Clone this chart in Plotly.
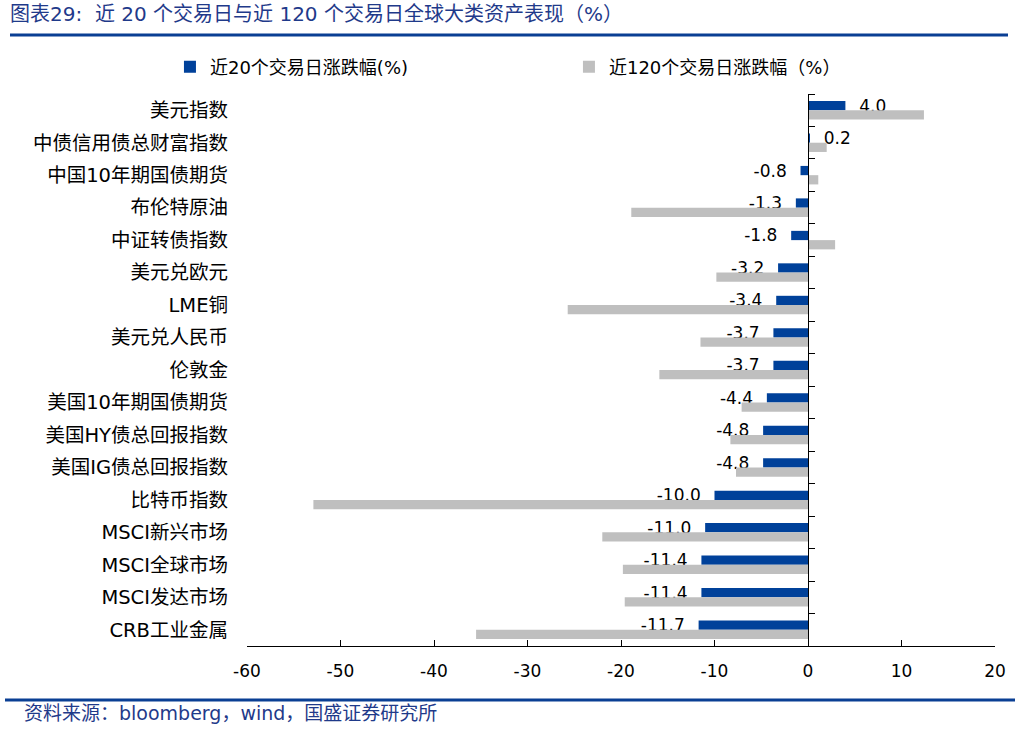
import plotly.graph_objects as go

categories = ["美元指数", "中债信用债总财富指数", "中国10年期国债期货", "布伦特原油", "中证转债指数",
              "美元兑欧元", "LME铜", "美元兑人民币", "伦敦金", "美国10年期国债期货",
              "美国HY债总回报指数", "美国IG债总回报指数", "比特币指数", "MSCI新兴市场",
              "MSCI全球市场", "MSCI发达市场", "CRB工业金属"]
chg_20d = [4.0, 0.2, -0.8, -1.3, -1.8, -3.2, -3.4, -3.7, -3.7, -4.4, -4.8, -4.8,
           -10.0, -11.0, -11.4, -11.4, -11.7]
chg_120d = [12.4, 2.0, 1.1, -18.9, 2.9, -9.8, -25.7, -11.5, -15.9, -7.1, -8.3, -7.7,
            -52.9, -22.0, -19.8, -19.6, -35.5]
series_names = ["近20个交易日涨跌幅(%)", "近120个交易日涨跌幅（%）"]
x_ticks = [-60, -50, -40, -30, -20, -10, 0, 10, 20]
x_ticktext = ["-60", "-50", "-40", "-30", "-20", "-10", "0", "10", "20"]

BLUE = "#00419A"
GRAY = "#BFBFBF"
NAVY = "#1F3A8A"
LATIN = "DejaVu Sans, Noto Sans CJK SC, sans-serif"

labels = [("\u00a0\u00a0" + "%{x:.1f}") if v >= 0 else ("%{x:.1f}" + "\u00a0\u00a0") for v in chg_20d]

fig = go.Figure()
fig.add_trace(go.Bar(
    y=categories, x=chg_20d, orientation="h", name=series_names[0],
    marker=dict(color=BLUE, line=dict(width=0)),
    texttemplate=labels, textposition="outside", constraintext="none",
    cliponaxis=False, textfont=dict(size=17, color="black", family=LATIN),
))
fig.add_trace(go.Bar(
    y=categories, x=chg_120d, orientation="h", name=series_names[1],
    marker=dict(color=GRAY, line=dict(width=0)),
))
# helper trace for the zero-line axis with category boundary ticks
fig.add_trace(go.Scatter(
    y=categories, x=[None] * len(categories), yaxis="y2", mode="markers",
    showlegend=False, hoverinfo="skip",
))

n = len(categories)
PW, PH = 748, 552  # plot area size in px
fig.update_layout(
    width=1022, height=730,
    margin=dict(l=247, r=27, t=94, b=84, autoexpand=False),
    paper_bgcolor="white", plot_bgcolor="white",
    barmode="group", bargap=0.43, bargroupgap=0,
    font=dict(family=LATIN, size=17, color="black"),
    xaxis=dict(range=[-60, 20], tickvals=x_ticks, ticktext=x_ticktext,
               ticks="inside", ticklen=6,
               tickcolor="black", showline=True, linecolor="black", linewidth=1,
               showgrid=False, zeroline=False, ticklabelstandoff=10, automargin=False,
               tickfont=dict(size=17, family=LATIN, color="black")),
    yaxis=dict(type="category", categoryorder="array", categoryarray=categories,
               range=[n - 0.5, -0.5], showline=False, ticks="", showgrid=False,
               zeroline=False, ticklabelstandoff=18, automargin=False,
               tickfont=dict(size=19.5, family=LATIN, color="black")),
    yaxis2=dict(type="category", categoryorder="array", categoryarray=categories,
                range=[n - 0.5, -0.5], overlaying="y", anchor="free", position=0.75,
                side="right", showline=True, linecolor="black", linewidth=1,
                ticks="outside", ticklen=6, tickcolor="black", tickson="boundaries",
                showticklabels=False, showgrid=False, zeroline=False, automargin=False),
    legend=dict(orientation="h", x=-0.103, y=1 + (94 - 67) / PH, xanchor="left",
                yanchor="middle", entrywidth=354,
                font=dict(size=18, family=LATIN, color="black"),
                itemwidth=30, bgcolor="rgba(0,0,0,0)"),
    showlegend=True,
)

fig.add_annotation(text="图表29:  近 20 个交易日与近 120 个交易日全球大类资产表现（%）",
                   xref="paper", yref="paper", x=-239 / PW, y=1 + (94 - 14) / PH,
                   xanchor="left", yanchor="middle", showarrow=False,
                   font=dict(size=20, color=NAVY, family=LATIN))
fig.add_annotation(text="资料来源：bloomberg，wind，国盛证券研究所",
                   xref="paper", yref="paper", x=-225 / PW, y=-(713 - 646) / PH,
                   xanchor="left", yanchor="middle", showarrow=False,
                   font=dict(size=19, color=NAVY, family=LATIN))
fig.add_shape(type="line", xref="paper", yref="paper",
              x0=-237 / PW, x1=(1008 - 247) / PW,
              y0=1 + (94 - 35) / PH, y1=1 + (94 - 35) / PH,
              line=dict(color="#0A3F94", width=3))
fig.add_shape(type="line", xref="paper", yref="paper",
              x0=-242 / PW, x1=(1015 - 247) / PW,
              y0=-(700 - 646) / PH, y1=-(700 - 646) / PH,
              line=dict(color="#0A3F94", width=3))

fig.write_html("out.html", config={"displayModeBar": False},
               post_script="document.body.style.margin='0';")
